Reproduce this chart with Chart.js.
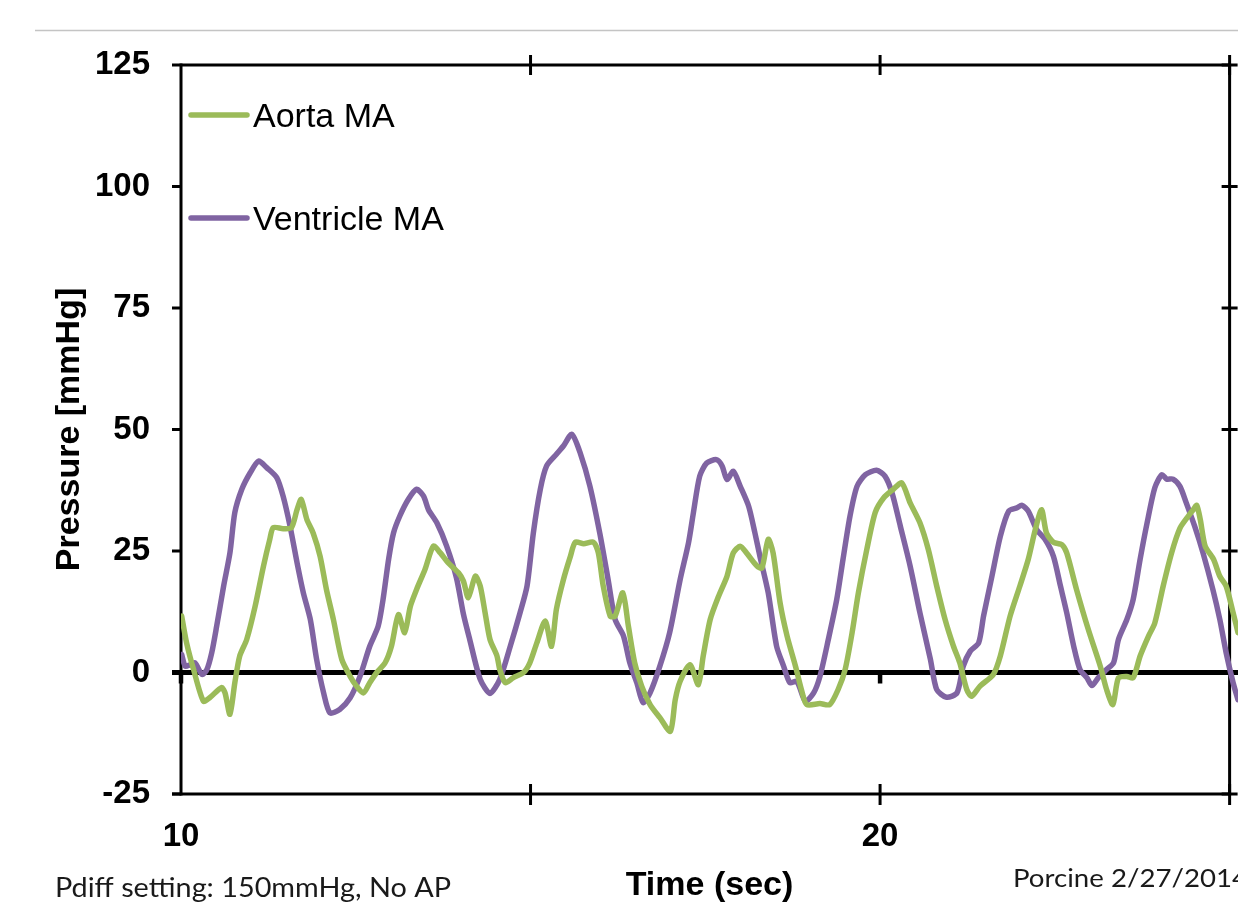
<!DOCTYPE html>
<html><head><meta charset="utf-8">
<script src="https://cdn.jsdelivr.net/npm/chart.js@4.4.1/dist/chart.umd.min.js"></script>
<style>html,body{margin:0;padding:0;background:#fff;overflow:hidden}canvas{display:block}</style>
</head><body>
<canvas id="c" width="1238" height="904"></canvas>
<script>
// ---- data ----
const seriesNames = ['Aorta MA', 'Ventricle MA'];
const seriesColors = ['#9BBB59', '#8064A2'];

const aortaTime = [10.01,10.08,10.18,10.32,10.41,10.58,10.63,10.70,10.77,10.84,
10.94,11.06,11.18,11.27,11.32,11.46,11.58,11.66,11.72,11.80,
11.89,11.99,12.08,12.18,12.30,12.42,12.51,12.61,12.70,12.80,
12.92,13.01,13.11,13.20,13.28,13.37,13.49,13.61,13.71,13.82,
13.97,14.04,14.11,14.21,14.28,14.35,14.42,14.52,14.56,14.64,
14.75,14.90,14.99,15.09,15.21,15.30,15.37,15.47,15.57,15.64,
15.76,15.90,15.97,16.04,16.14,16.21,16.32,16.40,16.49,16.59,
16.71,16.85,17.00,17.07,17.14,17.28,17.40,17.47,17.57,17.69,
17.81,17.90,18.00,18.09,18.24,18.31,18.40,18.47,18.57,18.67,
18.79,18.88,18.95,19.14,19.28,19.40,19.50,19.60,19.69,19.81,
19.93,20.05,20.19,20.31,20.43,20.57,20.69,20.81,20.93,21.05,
21.14,21.24,21.31,21.43,21.62,21.72,21.86,22.00,22.12,22.22,
22.31,22.38,22.48,22.60,22.67,22.81,22.98,23.15,23.24,23.33,
23.41,23.53,23.62,23.72,23.84,23.93,24.05,24.17,24.29,24.41,
24.48,24.53,24.58,24.65,24.77,24.86,24.95,25.05,25.12];
const aortaPressure = [11.6,6.1,0.6,-5.9,-5.2,-3.1,-4.2,-8.6,-2.1,3.4,
6.8,13.6,21.9,27.4,29.8,29.6,29.8,33.5,35.6,31.5,
28.7,23.9,17.1,10.9,2.7,-0.8,-2.8,-4.2,-2.1,0,
2.0,5.4,11.9,8.2,13.6,17.1,21.2,26.0,24.6,22.6,
20.5,18.8,15.4,19.8,17.8,12.3,6.8,3.4,0.6,-2.1,
-1.1,0,2.0,6.1,10.6,5.4,13.0,19.1,23.9,26.8,
26.5,26.8,24.6,17.8,11.6,11.6,16.4,9.5,2.0,-2.8,
-6.6,-9.3,-12.1,-5.6,-1.8,1.6,-2.5,3.4,10.9,15.7,
19.8,24.6,26.0,24.6,21.9,21.5,27.4,24.6,14.3,7.5,
1.3,-3.8,-6.6,-6.4,-6.6,-3.5,0.6,8.2,16.4,25.3,
32.9,35.9,37.7,39.0,34.9,30.8,25.3,17.8,10.9,5.4,
2.0,-3.5,-4.9,-2.8,-0.4,3.4,11.6,17.8,23.3,29.4,
33.5,28.7,26.8,26.3,24.6,17.1,8.8,1.3,-3.5,-6.6,
-1.1,-0.8,-1.1,3.4,7.5,10.2,17.8,24.6,29.7,32.2,
33.5,34.4,31.5,26.0,23.3,19.8,17.8,12.3,8.2];

const ventricleTime = [10.01,10.06,10.13,10.20,10.30,10.37,10.44,10.51,10.61,10.70,
10.77,10.87,10.99,11.11,11.23,11.37,11.46,11.56,11.66,11.75,
11.85,11.94,12.04,12.13,12.27,12.42,12.56,12.70,12.82,12.89,12.97,
13.04,13.13,13.25,13.37,13.47,13.54,13.66,13.80,13.94,14.04,
14.13,14.28,14.42,14.56,14.71,14.85,14.95,15.04,15.14,15.23,
15.37,15.47,15.59,15.71,15.85,15.99,16.11,16.21,16.33,16.42,
16.52,16.61,16.71,16.85,16.99,17.14,17.26,17.33,17.42,17.52,
17.66,17.74,17.81,17.90,18.00,18.12,18.21,18.28,18.40,18.52,
18.62,18.71,18.81,18.93,19.05,19.14,19.26,19.38,19.47,19.57,
19.67,19.79,19.95,20.07,20.17,20.29,20.43,20.57,20.72,20.81,
20.95,21.10,21.19,21.29,21.41,21.48,21.60,21.72,21.84,21.96,
22.03,22.12,22.24,22.36,22.48,22.58,22.67,22.77,22.86,22.96,
23.03,23.12,23.24,23.34,23.41,23.53,23.62,23.72,23.82,23.93,
24.03,24.10,24.19,24.29,24.38,24.50,24.62,24.76,24.86,24.95,
25.05,25.12];
const ventriclePressure = [3.7,1.3,1.6,2.0,-0.4,0.6,4.1,9.5,17.8,24.6,
32.9,37.7,41.1,43.5,42.1,40.1,36.3,30.1,22.6,16.4,
10.9,2.7,-4.2,-8.3,-7.6,-5.2,-0.8,5.4,9.5,15.0,23.3,
28.7,32.2,35.6,37.7,36.3,33.5,30.8,26.0,19.5,12.0,
6.8,-1.4,-4.3,-1.4,5.4,12.3,17.8,28.7,37.7,42.5,
44.9,46.6,49.0,45.2,38.3,28.7,19.1,10.9,7.5,2.0,
-2.1,-6.2,-4.2,1.3,8.2,19.1,26.7,32.9,40.4,43.1,
43.8,42.5,39.7,41.4,38.3,34.2,28.7,24.0,16.4,5.4,
1.3,-2.1,-1.8,-5.9,-4.2,-0.8,6.8,15.0,23.3,32.2,
38.3,40.7,41.6,40.4,37.0,30.1,21.9,12.3,2.7,-3.5,
-5.1,-4.2,1.3,4.4,6.1,11.6,19.8,28.0,33.2,33.9,
34.4,33.2,29.4,27.4,23.9,17.8,12.3,5.4,0.6,-1.1,
-2.7,-1.1,0.6,2.0,6.8,10.9,15.0,23.3,30.8,38.0,
40.7,39.8,39.8,38.3,34.9,30.1,24.6,17.1,10.9,4.1,
-2.1,-5.6];

const yTickValues = [-25, 0, 25, 50, 75, 100, 125];
const xTickValues = [10, 15, 20, 25];
const xLabelValues = [10, 20];
const xVisibleMax = 25.12;   // the picture is cropped a little past 25 s
const yTitle = 'Pressure [mmHg]';
const xTitle = 'Time (sec)';
const footLeft = 'Pdiff setting: 150mmHg, No AP';
const footRight = 'Porcine 2/27/2014';

// ---- helpers ----
const toPoints = (xs, ys) => xs.map((x, i) => ({x, y: ys[i]}));
const ARIAL = '"Liberation Sans", Arial, Helvetica, sans-serif';

const framePlugin = {
  id: 'frame',
  beforeDatasetsDraw(chart) {
    const {ctx, chartArea, scales: {x, y}} = chart;
    const L = chartArea.left, R = x.getPixelForValue(25);
    const T = y.getPixelForValue(125), B = y.getPixelForValue(-25), Z = y.getPixelForValue(0);
    const line = (x1, y1, x2, y2, w, c) => {
      ctx.beginPath(); ctx.lineWidth = w; ctx.strokeStyle = c || '#000';
      ctx.moveTo(x1, y1); ctx.lineTo(x2, y2); ctx.stroke();
    };
    ctx.save();
    ctx.lineCap = 'butt';
    // slide rule line at top
    line(35, 30.5, chart.width, 30.5, 1.5, '#c4c4c4');
    // zero line
    line(L - 9, Z, chart.width, Z, 5);
    xLabelValues.forEach(v => { const p = x.getPixelForValue(v); line(p, Z, p, Z + 11, 4.5); });
    // plot frame
    line(L, T - 1.5, L, B + 1.5, 3);
    line(L, T, R, T, 3);
    line(R, T - 1.5, R, B + 1.5, 3);
    line(L - 9, B, R, B, 3);
    yTickValues.forEach(v => {
      const p = y.getPixelForValue(v);
      line(L - 9, p, L, p, 3);
      line(R - 8, p, R + 8, p, 3);
    });
    xTickValues.filter(v => v > 10).forEach(v => {
      const p = x.getPixelForValue(v);
      line(p, T - 10, p, T + 10, 3);
      line(p, B - 10, p, B + 11, 3);
    });
    ctx.restore();
  },
  afterDraw(chart) {
    const {ctx} = chart;
    ctx.save();
    // legend
    const rows = [115, 218];
    chart.data.datasets.forEach((ds, i) => {
      ctx.beginPath(); ctx.lineWidth = 5.5; ctx.lineCap = 'round'; ctx.strokeStyle = ds.borderColor;
      ctx.moveTo(191, rows[i]); ctx.lineTo(247, rows[i]); ctx.stroke();
      ctx.fillStyle = '#000'; ctx.font = '34px ' + ARIAL; ctx.textBaseline = 'alphabetic'; ctx.textAlign = 'left';
      ctx.fillText(ds.label, 253, rows[i] + 12);
    });
    // footnotes
    ctx.fillStyle = '#1a1a1a';
    ctx.font = '27px Lato, "Open Sans", sans-serif';
    const sxL = 396 / ctx.measureText(footLeft).width;
    ctx.save(); ctx.translate(55, 897); ctx.scale(sxL, 1); ctx.fillText(footLeft, 0, 0); ctx.restore();
    ctx.font = '25px Lato, "Open Sans", sans-serif';
    const sxR = 219 / ctx.measureText(footRight.slice(0, 16)).width;
    ctx.save(); ctx.translate(1013, 887); ctx.scale(sxR, 1); ctx.fillText(footRight, 0, 0); ctx.restore();
    ctx.restore();
  }
};

new Chart(document.getElementById('c'), {
  type: 'line',
  data: {
    datasets: [
      {label: seriesNames[0], data: toPoints(aortaTime, aortaPressure), borderColor: seriesColors[0]},
      {label: seriesNames[1], data: toPoints(ventricleTime, ventriclePressure), borderColor: seriesColors[1]}
    ]
  },
  options: {
    responsive: false, animation: false, devicePixelRatio: 1,
    layout: {padding: {top: 65, right: 0, left: 0, bottom: 0}, autoPadding: false},
    elements: {
      line: {borderWidth: 5.5, tension: 0.25, fill: false, borderCapStyle: 'round', borderJoinStyle: 'round'},
      point: {radius: 0, hoverRadius: 0}
    },
    plugins: {legend: {display: false}, tooltip: {enabled: false}},
    scales: {
      x: {
        type: 'linear', min: 10, max: xVisibleMax,
        afterBuildTicks: s => { s.ticks = xTickValues.map(v => ({value: v})); },
        afterFit: s => { s.height = 110; s.paddingLeft = 0; s.paddingRight = 0; },
        grid: {display: false, drawTicks: true, tickLength: 23}, border: {display: false},
        ticks: {
          autoSkip: false, maxRotation: 0, padding: 0, color: '#000',
          font: {family: ARIAL, size: 33, weight: 'bold'},
          callback: v => xLabelValues.includes(v) ? String(v) : ''
        },
        title: {display: true, text: xTitle, color: '#000', padding: {top: 0, bottom: 0},
          font: {family: ARIAL, size: 34, weight: 'bold', lineHeight: 1.1}}
      },
      y: {
        type: 'linear', min: -25, max: 125,
        afterBuildTicks: s => { s.ticks = yTickValues.map(v => ({value: v})); },
        afterFit: s => { s.width = 181; },
        grid: {display: false, drawTicks: true, tickLength: 31}, border: {display: false},
        ticks: {padding: 0, color: '#000', font: {family: ARIAL, size: 33, weight: 'bold'}},
        title: {display: true, text: yTitle, color: '#000', padding: {top: 51, bottom: 0},
          font: {family: ARIAL, size: 34, weight: 'bold', lineHeight: 1.1}}
      }
    }
  },
  plugins: [framePlugin]
});
</script>
</body></html>
